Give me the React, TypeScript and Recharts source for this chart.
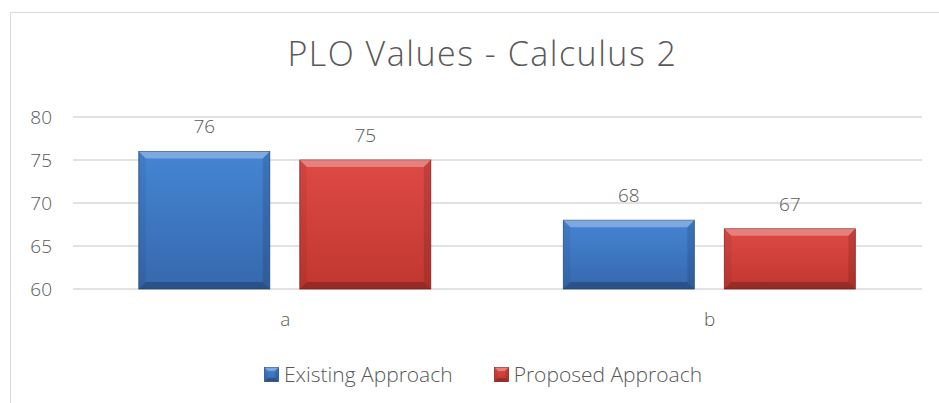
import React from 'react';
import { BarChart, Bar, XAxis, YAxis, CartesianGrid, LabelList, Legend } from 'recharts';

const categories = ['a', 'b'];
const existingValues = [76, 68];
const proposedValues = [75, 67];
const yTicks = [60, 65, 70, 75, 80];

const seriesNames = {
  existing: 'Existing Approach',
  proposed: 'Proposed Approach',
};

const data = categories.map((cat, i) => ({
  name: cat,
  existing: existingValues[i],
  proposed: proposedValues[i],
}));

const FONT = '"Open Sans", Lato, sans-serif';
const TEXT = '#595959';

const palette: Record<string, { top: string; bottom: string; edge: string }> = {
  existing: { top: '#4585d4', bottom: '#3668ad', edge: '#2a5287' },
  proposed: { top: '#de4a45', bottom: '#c0372f', edge: '#8f2622' },
};

// bar with a beveled look, like the office chart style
const bevelShape = (key: string) => (props: any) => {
  const { x, y, width: w, height: h } = props;
  if (w <= 0 || h <= 0) return null;
  const b = Math.min(7, w / 4, h / 4);
  const c = palette[key];
  return (
    <g>
      <rect x={x} y={y} width={w} height={h} fill={`url(#grad-${key})`} stroke={c.edge} strokeWidth={0.8} />
      <polygon points={`${x},${y} ${x + w},${y} ${x + w - b},${y + b} ${x + b},${y + b}`} fill="#fff" opacity={0.3} />
      <polygon points={`${x},${y} ${x + b},${y + b} ${x + b},${y + h - b} ${x},${y + h}`} fill="#000" opacity={0.06} />
      <polygon points={`${x + w},${y} ${x + w - b},${y + b} ${x + w - b},${y + h - b} ${x + w},${y + h}`} fill="#000" opacity={0.12} />
      <polygon points={`${x},${y + h} ${x + b},${y + h - b} ${x + w - b},${y + h - b} ${x + w},${y + h}`} fill="#000" opacity={0.22} />
    </g>
  );
};

const LegendContent = () => (
  <div style={{ display: 'flex', justifyContent: 'center', alignItems: 'center', height: 24, paddingLeft: 34, fontFamily: FONT, fontWeight: 300, fontSize: 21, color: TEXT }}>
    {(['existing', 'proposed'] as const).map((key, i) => (
      <div key={key} style={{ display: 'flex', alignItems: 'center', marginLeft: i === 0 ? 0 : 41 }}>
        <svg width={15} height={15} style={{ marginRight: 5 }}>
          {bevelShape(key)({ x: 0.5, y: 0.5, width: 14, height: 14 })}
        </svg>
        <span>{seriesNames[key]}</span>
      </div>
    ))}
  </div>
);

export default function App() {
  return (
    <div style={{ position: 'absolute', left: 0, top: 0, width: 939, height: 403, overflow: 'hidden', background: '#fff' }}>
      <div style={{ position: 'absolute', left: 10, top: 12, width: 960, height: 420, border: '1px solid #d9d9d9' }} />
      <div style={{ position: 'absolute', left: 18, top: 33, width: 929, textAlign: 'center', fontFamily: FONT, fontWeight: 300, fontSize: 34, lineHeight: '40px', letterSpacing: 1.5, color: TEXT }}>
        PLO Values - Calculus 2
      </div>
      <div style={{ position: 'absolute', left: 0, top: 0 }}>
        <BarChart
          width={939}
          height={403}
          data={data}
          margin={{ top: 117, right: 17, left: 10, bottom: 17 }}
          barCategoryGap="15.5%"
          barGap={30}
        >
          <defs>
            {Object.keys(palette).map((k) => (
              <linearGradient key={k} id={`grad-${k}`} x1="0" y1="0" x2="0" y2="1">
                <stop offset="0%" stopColor={palette[k].top} />
                <stop offset="100%" stopColor={palette[k].bottom} />
              </linearGradient>
            ))}
          </defs>
          <CartesianGrid vertical={false} stroke="#d9d9d9" strokeWidth={1.3} />
          <XAxis
            dataKey="name"
            axisLine={false}
            tickLine={false}
            height={73}
            tickMargin={18}
            tick={{ fill: TEXT, fontSize: 19, fontFamily: FONT, fontWeight: 300 }}
          />
          <YAxis
            domain={[60, 80]}
            ticks={yTicks}
            width={63}
            axisLine={false}
            tickLine={false}
            tickMargin={15}
            tick={{ fill: TEXT, fontSize: 19, fontFamily: FONT, fontWeight: 300 }}
          />
          <Legend verticalAlign="bottom" height={24} content={<LegendContent />} />
          <Bar dataKey="existing" name={seriesNames.existing} fill="url(#grad-existing)" shape={bevelShape('existing')} isAnimationActive={false}>
            <LabelList dataKey="existing" position="top" offset={18} fill={TEXT} fontSize={19} fontFamily={FONT} fontWeight={300} />
          </Bar>
          <Bar dataKey="proposed" name={seriesNames.proposed} fill="url(#grad-proposed)" shape={bevelShape('proposed')} isAnimationActive={false}>
            <LabelList dataKey="proposed" position="top" offset={18} fill={TEXT} fontSize={19} fontFamily={FONT} fontWeight={300} />
          </Bar>
        </BarChart>
      </div>
    </div>
  );
}
